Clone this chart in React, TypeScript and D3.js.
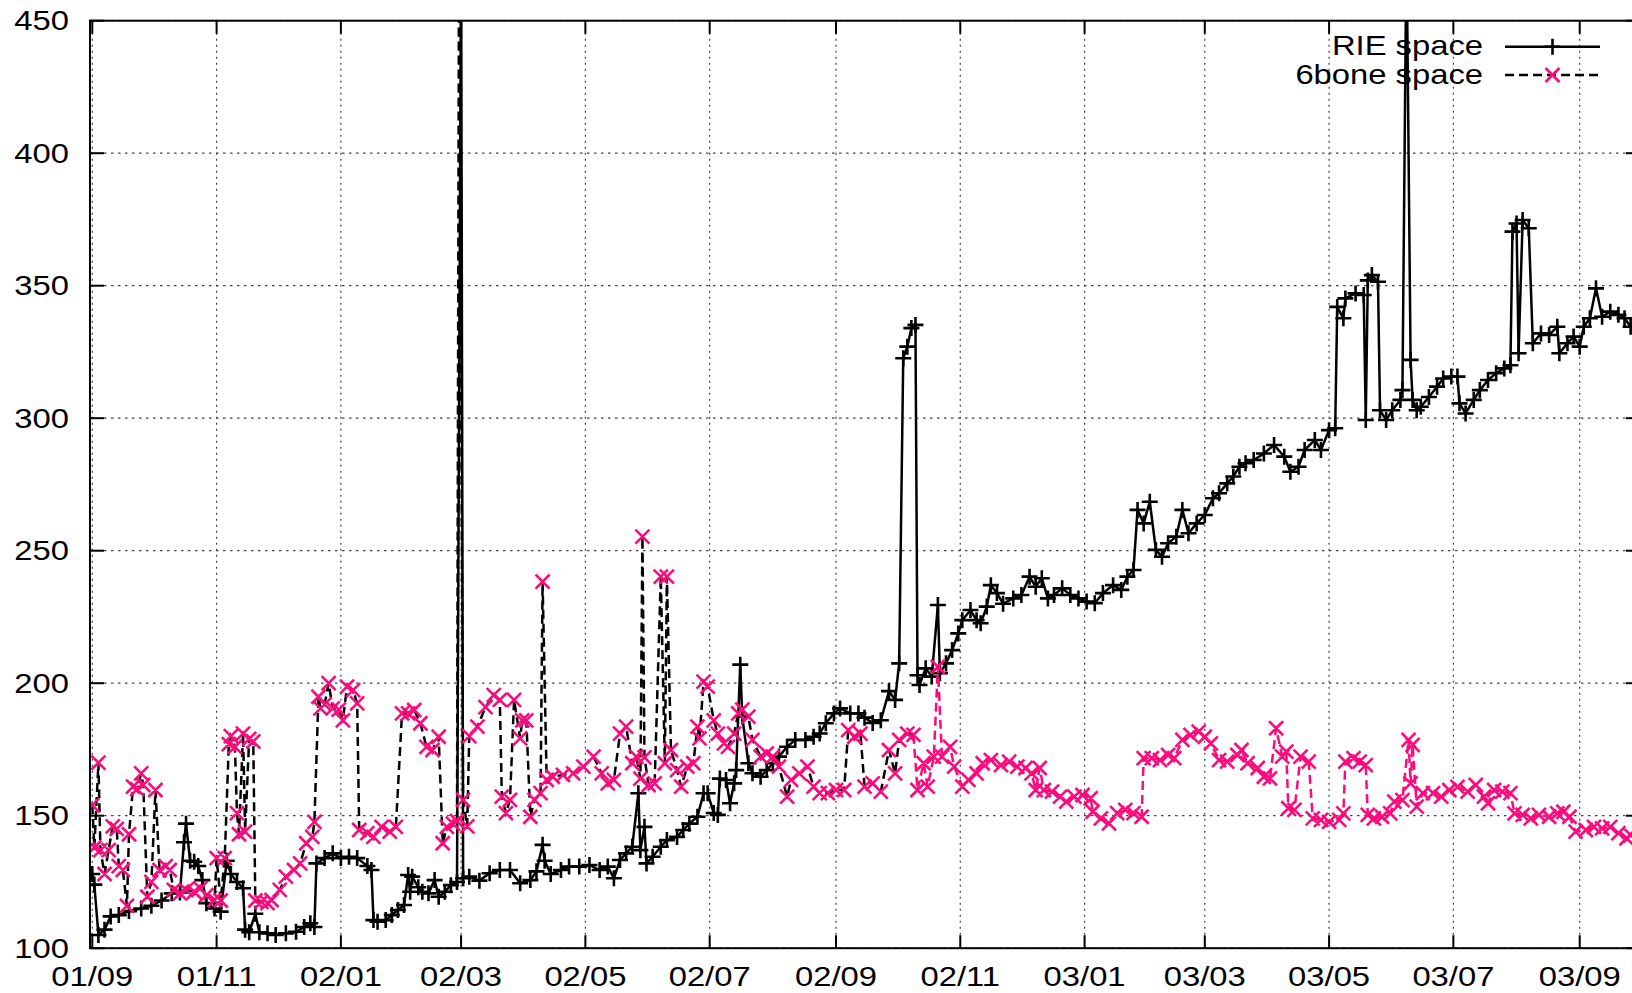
import React from "react";
import * as d3 from "d3";

// RIE address space (black, solid line with "+" markers)
const rieSpace: [string, number][] = [
  ["2001-09-01", 128], ["2001-09-02", 124], ["2001-09-04", 105], ["2001-09-07", 107],
  ["2001-09-10", 112], ["2001-09-14", 112.5], ["2001-09-19", 114], ["2001-09-25", 115],
  ["2001-09-30", 116], ["2001-10-05", 118], ["2001-10-10", 120.7], ["2001-10-14", 121],
  ["2001-10-16", 140], ["2001-10-17", 147], ["2001-10-19", 133], ["2001-10-21", 132.6],
  ["2001-10-23", 131], ["2001-10-25", 125.7], ["2001-10-27", 117], ["2001-10-31", 115],
  ["2001-11-03", 113.8], ["2001-11-06", 133], ["2001-11-08", 128], ["2001-11-11", 125],
  ["2001-11-14", 122.6], ["2001-11-15", 107], ["2001-11-17", 106], ["2001-11-20", 113],
  ["2001-11-22", 106], ["2001-11-26", 105.6], ["2001-11-30", 105], ["2001-12-05", 105.6],
  ["2001-12-10", 106.2], ["2001-12-14", 108], ["2001-12-17", 109.4], ["2001-12-19", 108],
  ["2001-12-20", 132], ["2001-12-24", 134], ["2001-12-28", 135.8], ["2002-01-01", 134],
  ["2002-01-05", 134.5], ["2002-01-09", 134], ["2002-01-14", 131], ["2002-01-16", 129.5],
  ["2002-01-17", 110.6], ["2002-01-19", 110], ["2002-01-23", 110.6], ["2002-01-26", 112.5],
  ["2002-01-29", 114.4], ["2002-02-01", 116.3], ["2002-02-03", 127.6], ["2002-02-04", 121.3],
  ["2002-02-05", 127], ["2002-02-08", 123], ["2002-02-10", 121.3], ["2002-02-13", 120.7],
  ["2002-02-16", 125.7], ["2002-02-18", 119.4], ["2002-02-21", 121.3], ["2002-02-24", 123.8],
  ["2002-02-27", 125], ["2002-03-01", 480], ["2002-03-02", 126.4], ["2002-03-05", 127],
  ["2002-03-10", 125.5], ["2002-03-15", 128.3], ["2002-03-20", 129.5], ["2002-03-25", 129.5],
  ["2002-03-30", 124.5], ["2002-04-04", 125.7], ["2002-04-07", 129], ["2002-04-10", 139],
  ["2002-04-11", 133], ["2002-04-14", 128], ["2002-04-19", 129.5], ["2002-04-23", 130.8],
  ["2002-04-28", 130.8], ["2002-05-03", 131.4], ["2002-05-08", 129.5], ["2002-05-12", 130.8],
  ["2002-05-15", 126.4], ["2002-05-18", 133.3], ["2002-05-21", 135.8], ["2002-05-24", 138.3],
  ["2002-05-27", 158.5], ["2002-05-28", 137], ["2002-05-30", 145.8], ["2002-05-31", 132],
  ["2002-06-03", 134.5], ["2002-06-07", 138.3], ["2002-06-10", 140.8], ["2002-06-15", 142],
  ["2002-06-18", 144.6], ["2002-06-21", 147], ["2002-06-25", 149.6], ["2002-06-28", 158.5],
  ["2002-06-30", 158.5], ["2002-07-03", 151], ["2002-07-05", 150.3], ["2002-07-06", 164],
  ["2002-07-09", 163.5], ["2002-07-11", 154.7], ["2002-07-13", 162.2], ["2002-07-14", 167.2],
  ["2002-07-16", 207], ["2002-07-17", 187.4], ["2002-07-20", 169.8], ["2002-07-22", 166],
  ["2002-07-26", 164.7], ["2002-07-29", 167.2], ["2002-08-01", 169.8], ["2002-08-04", 172.3],
  ["2002-08-08", 176], ["2002-08-12", 178.6], ["2002-08-17", 178.6], ["2002-08-21", 179.8],
  ["2002-08-24", 181], ["2002-08-27", 184.9], ["2002-08-31", 188.6], ["2002-09-03", 190.5],
  ["2002-09-08", 188.6], ["2002-09-12", 188.6], ["2002-09-15", 187], ["2002-09-19", 185],
  ["2002-09-23", 186], ["2002-09-27", 197], ["2002-09-30", 193.7], ["2002-10-02", 207.5],
  ["2002-10-04", 322.6], ["2002-10-06", 327], ["2002-10-08", 334], ["2002-10-10", 335.2],
  ["2002-10-11", 203], ["2002-10-12", 199.3], ["2002-10-15", 205.6], ["2002-10-18", 202.5],
  ["2002-10-21", 229.5], ["2002-10-22", 203.8], ["2002-10-25", 207.5], ["2002-10-28", 212.5],
  ["2002-10-31", 218.8], ["2002-11-02", 223.8], ["2002-11-06", 227.6], ["2002-11-09", 223.8],
  ["2002-11-11", 222.6], ["2002-11-14", 228.9], ["2002-11-16", 237], ["2002-11-19", 234],
  ["2002-11-22", 230], ["2002-11-27", 232], ["2002-12-01", 233.3], ["2002-12-05", 240.2],
  ["2002-12-08", 236.4], ["2002-12-11", 239.6], ["2002-12-14", 232], ["2002-12-17", 233.3],
  ["2002-12-21", 235.8], ["2002-12-25", 233.3], ["2002-12-29", 232], ["2003-01-02", 230.8],
  ["2003-01-06", 230.2], ["2003-01-10", 234], ["2003-01-15", 237], ["2003-01-19", 235.2],
  ["2003-01-22", 240.2], ["2003-01-25", 242.7], ["2003-01-27", 265.4], ["2003-01-30", 260.3],
  ["2003-02-02", 268.5], ["2003-02-05", 250.3], ["2003-02-08", 247.7], ["2003-02-11", 252.8],
  ["2003-02-15", 255.3], ["2003-02-18", 265.4], ["2003-02-21", 256.6], ["2003-02-25", 260.3],
  ["2003-03-01", 263.5], ["2003-03-05", 269.8], ["2003-03-08", 271.7], ["2003-03-12", 275.4],
  ["2003-03-15", 278], ["2003-03-18", 281.7], ["2003-03-21", 283], ["2003-03-25", 284.2],
  ["2003-03-30", 286.7], ["2003-04-04", 289.9], ["2003-04-09", 285.5], ["2003-04-12", 279.8],
  ["2003-04-16", 281.7], ["2003-04-19", 288], ["2003-04-24", 291.8], ["2003-04-27", 288],
  ["2003-05-01", 295.5], ["2003-05-04", 296.2], ["2003-05-05", 342], ["2003-05-08", 337.7],
  ["2003-05-09", 345.2], ["2003-05-14", 347.1], ["2003-05-18", 346.5], ["2003-05-19", 299.3],
  ["2003-05-20", 352], ["2003-05-22", 354], ["2003-05-25", 351.5], ["2003-05-26", 303],
  ["2003-05-29", 299.3], ["2003-06-01", 303], ["2003-06-05", 306.9], ["2003-06-06", 310.6],
  ["2003-06-08", 480], ["2003-06-10", 322], ["2003-06-11", 306.9], ["2003-06-13", 303],
  ["2003-06-15", 304.3], ["2003-06-19", 308], ["2003-06-23", 311.9], ["2003-06-26", 315],
  ["2003-06-30", 315.7], ["2003-07-03", 315.7], ["2003-07-04", 305.6], ["2003-07-07", 301.8],
  ["2003-07-11", 306.9], ["2003-07-14", 310.6], ["2003-07-18", 314.4], ["2003-07-22", 317],
  ["2003-07-26", 318.8], ["2003-07-29", 320], ["2003-07-30", 370.4], ["2003-08-01", 373.5],
  ["2003-08-02", 324.5], ["2003-08-04", 374.8], ["2003-08-07", 371.7], ["2003-08-09", 328.3],
  ["2003-08-13", 332], ["2003-08-17", 331.4], ["2003-08-21", 334.5], ["2003-08-22", 324.5],
  ["2003-08-26", 328.3], ["2003-08-29", 330.8], ["2003-09-01", 327], ["2003-09-03", 334.5],
  ["2003-09-06", 337.7], ["2003-09-09", 349], ["2003-09-12", 338.3], ["2003-09-16", 340.2],
  ["2003-09-20", 339], ["2003-09-23", 337.7], ["2003-09-26", 334.5],
];

// 6bone address space (pink "x" markers, dashed line)
const sixboneSpace: [string, number][] = [
  ["2001-09-01", 154], ["2001-09-02", 138], ["2001-09-04", 170], ["2001-09-05", 137],
  ["2001-09-07", 128], ["2001-09-09", 137], ["2001-09-11", 146], ["2001-09-13", 145],
  ["2001-09-14", 131], ["2001-09-16", 129.5], ["2001-09-18", 116], ["2001-09-19", 143],
  ["2001-09-21", 161], ["2001-09-23", 160], ["2001-09-25", 166], ["2001-09-26", 161.6],
  ["2001-09-28", 119.4], ["2001-09-30", 125], ["2001-10-02", 159.7], ["2001-10-04", 129.5],
  ["2001-10-07", 131], ["2001-10-09", 129.5], ["2001-10-11", 122], ["2001-10-14", 120.7],
  ["2001-10-17", 122], ["2001-10-21", 121.3], ["2001-10-24", 122.6], ["2001-10-27", 120],
  ["2001-10-31", 118.2], ["2001-11-01", 134], ["2001-11-03", 118], ["2001-11-05", 134],
  ["2001-11-07", 177], ["2001-11-08", 180], ["2001-11-10", 176], ["2001-11-11", 151],
  ["2001-11-12", 143], ["2001-11-14", 181], ["2001-11-15", 144], ["2001-11-17", 179],
  ["2001-11-19", 178], ["2001-11-20", 118], ["2001-11-23", 117.5], ["2001-11-26", 117],
  ["2001-11-28", 118.2], ["2001-12-02", 122], ["2001-12-05", 127], ["2001-12-09", 129.5],
  ["2001-12-12", 132], ["2001-12-15", 139.6], ["2001-12-18", 142], ["2001-12-19", 147.7],
  ["2001-12-21", 194.9], ["2001-12-22", 190.5], ["2001-12-24", 192], ["2001-12-26", 200],
  ["2001-12-28", 190.5], ["2001-12-31", 190], ["2002-01-02", 186], ["2002-01-04", 198.7],
  ["2002-01-07", 197.4], ["2002-01-09", 192.4], ["2002-01-10", 144.6], ["2002-01-14", 143.4],
  ["2002-01-17", 142], ["2002-01-21", 145.8], ["2002-01-25", 144], ["2002-01-28", 145.8],
  ["2002-01-31", 188.6], ["2002-02-03", 188.6], ["2002-02-06", 189.9], ["2002-02-09", 184.9],
  ["2002-02-12", 176], ["2002-02-15", 174.8], ["2002-02-18", 179.8], ["2002-02-20", 139.6],
  ["2002-02-22", 145.8], ["2002-02-25", 147], ["2002-02-27", 148], ["2002-02-28", 480],
  ["2002-03-02", 156], ["2002-03-04", 146], ["2002-03-05", 180], ["2002-03-09", 183.6],
  ["2002-03-13", 191], ["2002-03-17", 195.5], ["2002-03-20", 193.7], ["2002-03-21", 157.2],
  ["2002-03-23", 151], ["2002-03-25", 156], ["2002-03-27", 193.7], ["2002-03-30", 179.2],
  ["2002-03-31", 186], ["2002-04-02", 186], ["2002-04-04", 149.6], ["2002-04-06", 156],
  ["2002-04-09", 158.5], ["2002-04-10", 238.3], ["2002-04-12", 163.5], ["2002-04-15", 164.7],
  ["2002-04-20", 165.4], ["2002-04-25", 166], ["2002-04-30", 168.5], ["2002-05-05", 172.3],
  ["2002-05-09", 166], ["2002-05-12", 162.2], ["2002-05-15", 163.5], ["2002-05-18", 181],
  ["2002-05-21", 183.6], ["2002-05-24", 169.8], ["2002-05-26", 172.3], ["2002-05-28", 164],
  ["2002-05-29", 255.3], ["2002-05-30", 172], ["2002-06-01", 161.6], ["2002-06-04", 162.2],
  ["2002-06-07", 240.2], ["2002-06-09", 169.8], ["2002-06-10", 240.2], ["2002-06-12", 174.8],
  ["2002-06-15", 167.2], ["2002-06-17", 161], ["2002-06-20", 168.5], ["2002-06-23", 169.8],
  ["2002-06-25", 183.6], ["2002-06-26", 179.2], ["2002-06-28", 200.6], ["2002-06-30", 198.7],
  ["2002-07-03", 186], ["2002-07-05", 181], ["2002-07-08", 177.3], ["2002-07-10", 176],
  ["2002-07-13", 181], ["2002-07-15", 188.6], ["2002-07-17", 190], ["2002-07-20", 187.4],
  ["2002-07-22", 178.6], ["2002-07-26", 172.3], ["2002-07-29", 173.5], ["2002-08-01", 172.3],
  ["2002-08-04", 168.5], ["2002-08-08", 157.2], ["2002-08-10", 163.5], ["2002-08-14", 166],
  ["2002-08-18", 168.5], ["2002-08-21", 161], ["2002-08-24", 158.5], ["2002-08-28", 158.5],
  ["2002-09-01", 159.7], ["2002-09-05", 159.7], ["2002-09-07", 182.3], ["2002-09-10", 179.8],
  ["2002-09-13", 181], ["2002-09-15", 161], ["2002-09-19", 162.2], ["2002-09-23", 159.1],
  ["2002-09-27", 174.8], ["2002-09-30", 166], ["2002-10-02", 178.6], ["2002-10-06", 181],
  ["2002-10-09", 180.5], ["2002-10-11", 159.7], ["2002-10-14", 169.8], ["2002-10-16", 161],
  ["2002-10-19", 172.3], ["2002-10-21", 206.2], ["2002-10-23", 172.3], ["2002-10-27", 176],
  ["2002-10-29", 168.5], ["2002-11-02", 161], ["2002-11-05", 163.5], ["2002-11-09", 166],
  ["2002-11-12", 169.8], ["2002-11-16", 171], ["2002-11-21", 169.1], ["2002-11-25", 170.4],
  ["2002-11-29", 168.5], ["2002-12-03", 168], ["2002-12-06", 166], ["2002-12-08", 159.7],
  ["2002-12-10", 168], ["2002-12-12", 159.7], ["2002-12-16", 159.1], ["2002-12-20", 157.2],
  ["2002-12-23", 155.3], ["2002-12-27", 157.2], ["2002-12-31", 157.8], ["2003-01-04", 156.6],
  ["2003-01-05", 151.5], ["2003-01-09", 149], ["2003-01-13", 147.1], ["2003-01-17", 151],
  ["2003-01-21", 152.2], ["2003-01-25", 151], ["2003-01-29", 149.6], ["2003-01-30", 171.7],
  ["2003-02-03", 171.7], ["2003-02-07", 171], ["2003-02-11", 172.9], ["2003-02-14", 171.7],
  ["2003-02-18", 178.6], ["2003-02-22", 180.5], ["2003-02-26", 181.7], ["2003-03-01", 179.8],
  ["2003-03-04", 177.3], ["2003-03-08", 171], ["2003-03-12", 170.4], ["2003-03-17", 172.9],
  ["2003-03-19", 174.8], ["2003-03-22", 169.8], ["2003-03-27", 168], ["2003-03-30", 164.7],
  ["2003-04-02", 164.1], ["2003-04-05", 183], ["2003-04-08", 172.3], ["2003-04-10", 174.2],
  ["2003-04-11", 152.8], ["2003-04-14", 152.2], ["2003-04-17", 172.3], ["2003-04-21", 170.4],
  ["2003-04-23", 149], ["2003-04-27", 148.4], ["2003-05-01", 147.7], ["2003-05-06", 148.4],
  ["2003-05-08", 150.9], ["2003-05-09", 170.4], ["2003-05-13", 171.7], ["2003-05-16", 170.4],
  ["2003-05-19", 169.1], ["2003-05-20", 150.3], ["2003-05-23", 149], ["2003-05-27", 149.6],
  ["2003-05-31", 150.9], ["2003-06-02", 155.3], ["2003-06-06", 155.9], ["2003-06-09", 178.6],
  ["2003-06-10", 162.2], ["2003-06-11", 176.7], ["2003-06-13", 153.4], ["2003-06-16", 158.5],
  ["2003-06-21", 158.5], ["2003-06-25", 157.2], ["2003-06-29", 159.7], ["2003-07-03", 160.9],
  ["2003-07-08", 159.1], ["2003-07-12", 161.6], ["2003-07-16", 157.2], ["2003-07-18", 154.7],
  ["2003-07-21", 159.7], ["2003-07-25", 159.1], ["2003-07-29", 158.5], ["2003-07-31", 150.9],
  ["2003-08-04", 150.3], ["2003-08-08", 149], ["2003-08-12", 150.3], ["2003-08-17", 149.6],
  ["2003-08-21", 150.9], ["2003-08-24", 151.5], ["2003-08-27", 149.6], ["2003-08-30", 144],
  ["2003-09-04", 144.6], ["2003-09-08", 145.8], ["2003-09-12", 145.2], ["2003-09-16", 145.8],
  ["2003-09-20", 143.4], ["2003-09-24", 141.5], ["2003-09-26", 142.7],
];

const yTicks = [100, 150, 200, 250, 300, 350, 400, 450];
const legendLabels = ["RIE space", "6bone space"];
// date from which the 6bone connecting line is drawn in pink
const sixboneLineColorChange = "2002-10-10";

const W = 1632;
const H = 993;
const PLOT = { left: 90, right: 1640, top: 20.7, bottom: 948.2 };
const PINK = "#ff0a7c";
const FONT = "'Liberation Sans', Arial, Helvetica, sans-serif";
const FS = 28;
const SX = 1.17;

const parse = d3.utcParse("%Y-%m-%d");
const fmt = d3.utcFormat("%y/%m");

export default function App() {
  const x = d3
    .scaleUtc()
    .domain([parse("2001-09-01")!, parse("2003-09-01")!])
    .range([92.3, 1579.7]);
  const y = d3.scaleLinear().domain([100, 450]).range([PLOT.bottom, PLOT.top]);

  const xTicks = d3.utcMonth
    .every(2)!
    .range(parse("2001-09-01")!, parse("2003-09-02")!);

  const rie = rieSpace.map(([d, v]) => ({ t: parse(d)!, v }));
  const six = sixboneSpace.map(([d, v]) => ({ t: parse(d)!, v }));

  const line = d3
    .line<{ t: Date; v: number }>()
    .x((d) => x(d.t))
    .y((d) => y(d.v));

  const change = parse(sixboneLineColorChange)!;
  let idx = six.findIndex((d) => d.t > change);
  if (idx < 0) idx = six.length;
  const sixEarly = six.slice(0, idx);
  const sixLate = six.slice(Math.max(0, idx - 1));

  const m = 8;
  const c = 7;
  const plusPath = (px: number, py: number) =>
    `M${px - m},${py}H${px + m}M${px},${py - m}V${py + m}`;
  const crossPath = (px: number, py: number) =>
    `M${px - c},${py - c}L${px + c},${py + c}M${px - c},${py + c}L${px + c},${py - c}`;

  const riePlus = rie.map((d) => plusPath(x(d.t), y(d.v))).join("");
  const sixCross = six.map((d) => crossPath(x(d.t), y(d.v))).join("");

  const text = (
    key: string,
    tx: number,
    ty: number,
    s: string,
    anchor: "start" | "middle" | "end"
  ) => (
    <text
      key={key}
      transform={`translate(${tx},${ty}) scale(${SX},1)`}
      textAnchor={anchor}
      fontFamily={FONT}
      fontSize={FS}
      fill="#000"
    >
      {s}
    </text>
  );

  const legendX1 = 1505;
  const legendX2 = 1600;
  const legendMid = (legendX1 + legendX2) / 2;
  const legendRows = [46.7, 75];

  return (
    <svg
      width={W}
      height={H}
      viewBox={`0 0 ${W} ${H}`}
      style={{ position: "absolute", left: 0, top: 0, background: "#fff" }}
    >
      <defs>
        <clipPath id="plot-area">
          <rect
            x={PLOT.left}
            y={PLOT.top}
            width={PLOT.right - PLOT.left}
            height={PLOT.bottom - PLOT.top}
          />
        </clipPath>
      </defs>
      <rect x={0} y={0} width={W} height={H} fill="#fff" />

      {/* grid */}
      <g stroke="#444" strokeWidth={1.2} fill="none">
        {yTicks.map((t) => (
          <line
            key={`gy${t}`}
            x1={PLOT.left}
            x2={PLOT.right}
            y1={y(t)}
            y2={y(t)}
            strokeDasharray="2.5,4.5"
          />
        ))}
        {xTicks.map((t) => (
          <line
            key={`gx${+t}`}
            x1={x(t)}
            x2={x(t)}
            y1={PLOT.top}
            y2={PLOT.bottom}
            strokeDasharray="2,4"
          />
        ))}
      </g>

      {/* series */}
      <g clipPath="url(#plot-area)">
        <path d={line(rie)!} fill="none" stroke="#000" strokeWidth={2.5} />
        <path d={riePlus} fill="none" stroke="#000" strokeWidth={2.6} />
        <path
          d={line(sixEarly)!}
          fill="none"
          stroke="#000"
          strokeWidth={2.5}
          strokeDasharray="9,5"
        />
        <path
          d={line(sixLate)!}
          fill="none"
          stroke={PINK}
          strokeWidth={2.5}
          strokeDasharray="9,5"
        />
        <path d={sixCross} fill="none" stroke={PINK} strokeWidth={2.6} />
      </g>

      {/* border and ticks */}
      <g stroke="#000" strokeWidth={2} fill="none">
        <rect
          x={PLOT.left}
          y={PLOT.top}
          width={PLOT.right - PLOT.left}
          height={PLOT.bottom - PLOT.top}
        />
        {yTicks.map((t) => (
          <g key={`ty${t}`}>
            <line x1={PLOT.left} x2={PLOT.left + 14} y1={y(t)} y2={y(t)} />
            <line x1={PLOT.right} x2={PLOT.right - 14} y1={y(t)} y2={y(t)} />
          </g>
        ))}
        {xTicks.map((t) => (
          <g key={`tx${+t}`}>
            <line x1={x(t)} x2={x(t)} y1={PLOT.bottom} y2={PLOT.bottom - 13} />
            <line x1={x(t)} x2={x(t)} y1={PLOT.top} y2={PLOT.top + 13} />
          </g>
        ))}
      </g>

      {/* tick labels */}
      {yTicks.map((t) => text(`ly${t}`, 69, y(t) + 9.5, String(t), "end"))}
      {xTicks.map((t) => text(`lx${+t}`, x(t), 986, fmt(t), "middle"))}

      {/* legend */}
      {text("leg0", 1483, 55, legendLabels[0], "end")}
      {text("leg1", 1483, 83.5, legendLabels[1], "end")}
      <line
        x1={legendX1}
        x2={legendX2}
        y1={legendRows[0]}
        y2={legendRows[0]}
        stroke="#000"
        strokeWidth={2.5}
      />
      <path d={plusPath(legendMid, legendRows[0])} stroke="#000" strokeWidth={2.6} />
      <line
        x1={legendX1}
        x2={legendX2}
        y1={legendRows[1]}
        y2={legendRows[1]}
        stroke="#000"
        strokeWidth={2.5}
        strokeDasharray="9,5"
      />
      <path d={crossPath(legendMid, legendRows[1])} stroke={PINK} strokeWidth={2.6} />
    </svg>
  );
}
